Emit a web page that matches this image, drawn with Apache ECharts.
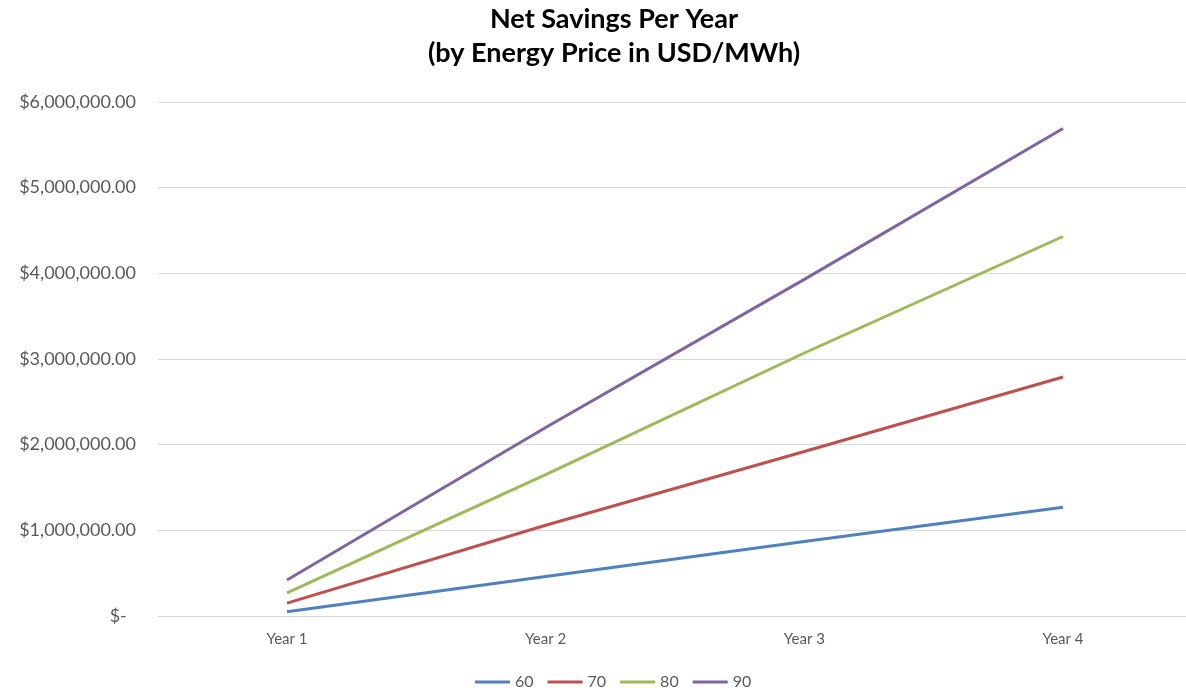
<!DOCTYPE html>
<html>
<head>
<meta charset="utf-8">
<title>Net Savings Per Year</title>
<script src="https://cdn.jsdelivr.net/npm/echarts@6/dist/echarts.min.js"></script>
<style>
  html, body { margin: 0; padding: 0; background: #fff; }
  #chart { width: 1186px; height: 691px; }
</style>
</head>
<body>
<div id="chart"></div>
<script>
// categories along the x axis
const years = ["Year 1", "Year 2", "Year 3", "Year 4"];

// net savings (USD) per energy price in USD/MWh
const price60 = [50000, 460000, 870000, 1270000];
const price70 = [150000, 1060000, 1920000, 2790000];
const price80 = [270000, 1650000, 3070000, 4430000];
const price90 = [420000, 2200000, 3930000, 5690000];

const seriesNames = ["60", "70", "80", "90"];
const colors = ["#4F81BD", "#C0504D", "#9BBB59", "#8064A2"];

const font = "Lato, 'Open Sans', sans-serif";
const chart = echarts.init(document.getElementById("chart"));

function money(v) {
  if (v === 0) return "$-  ";
  return "$" + v.toLocaleString("en-US", { minimumFractionDigits: 2, maximumFractionDigits: 2 });
}

function line(name, data, i) {
  return {
    name: name,
    type: "line",
    xAxisIndex: 1,
    yAxisIndex: 1,
    data: data,
    symbol: "none",
    lineStyle: { width: 3, color: colors[i] },
    itemStyle: { color: colors[i] },
  };
}

chart.setOption({
  animation: false,
  textStyle: { fontFamily: font },
  title: {
    text: "Net Savings Per Year\n(by Energy Price in USD/MWh)",
    left: 609,
    textAlign: "center",
    top: -3,
    textStyle: {
      fontFamily: font,
      fontSize: 27,
      fontWeight: "bold",
      color: "#000",
      lineHeight: 34,
    },
  },
  // grid 0 holds the gridlines and y labels, grid 1 the lines (categories at the edges)
  grid: [
    { left: 158, right: 0, top: 102, height: 514 },
    { left: 287, width: 776, top: 102, height: 514 },
  ],
  legend: {
    top: 667,
    left: 470,
    padding: 5,
    icon: "rect",
    itemWidth: 35,
    itemHeight: 3,
    itemGap: 14,
    textStyle: { fontSize: 16, color: "#595959", lineHeight: 20 },
    data: seriesNames,
  },
  xAxis: [
    {
      gridIndex: 0,
      type: "category",
      data: years,
      axisLine: { lineStyle: { color: "#d9d9d9", width: 1 } },
      axisTick: { show: false },
      axisLabel: { show: false },
    },
    {
      gridIndex: 1,
      type: "category",
      data: years,
      boundaryGap: false,
      axisLine: { show: false },
      axisTick: { show: false },
      splitLine: { show: false },
      axisLabel: { color: "#595959", fontSize: 15, margin: 16 },
    },
  ],
  yAxis: [
    {
      gridIndex: 0,
      type: "value",
      min: 0,
      max: 6000000,
      interval: 1000000,
      axisLine: { show: false },
      axisTick: { show: false },
      splitLine: { lineStyle: { color: "#d9d9d9", width: 1 } },
      axisLabel: { color: "#595959", fontSize: 18, margin: 22, formatter: money },
    },
    {
      gridIndex: 1,
      type: "value",
      min: 0,
      max: 6000000,
      interval: 1000000,
      show: false,
      splitLine: { show: false },
    },
  ],
  series: [
    line(seriesNames[0], price60, 0),
    line(seriesNames[1], price70, 1),
    line(seriesNames[2], price80, 2),
    line(seriesNames[3], price90, 3),
  ],
});
</script>
</body>
</html>
